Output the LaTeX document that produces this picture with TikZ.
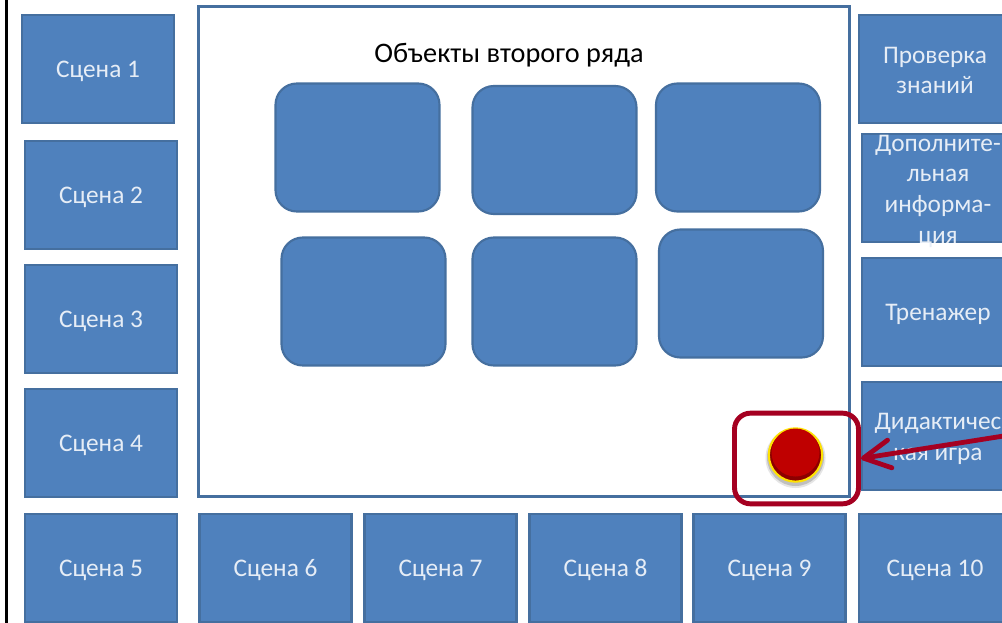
\documentclass[tikz,border=0pt]{standalone}
\usepackage{fontspec}
\setmainfont{Carlito}
\usetikzlibrary{arrows.meta}
\definecolor{boxfill}{HTML}{4F81BD}
\definecolor{boxline}{HTML}{456F9F}
\definecolor{boxtext}{HTML}{E6EDF6}
\definecolor{framered}{HTML}{A50021}
\tikzset{
  scenebox/.style={draw=boxline,fill=boxfill,line width=1.7pt,minimum width=114pt,minimum height=81pt,inner sep=0pt,
    text=boxtext,font=\fontsize{19}{23}\selectfont,text height=13pt,text depth=0pt},
  scenelabel/.style={text=boxtext,font=\fontsize{19}{23}\selectfont,align=center,inner sep=0pt},
  roundbox/.style={draw=boxline,fill=boxfill,line width=1.6pt,rounded corners=16pt,minimum width=123pt,minimum height=96pt,inner sep=0pt},
  bigbox/.style={draw=boxline,fill=white,line width=2pt,minimum width=488pt,minimum height=367pt,inner sep=0pt},
  titletext/.style={text=black,font=\fontsize{21.2}{25}\selectfont,inner sep=0pt},
  redframe/.style={draw=framered,line width=3.7pt,rounded corners=12pt,minimum width=93pt,minimum height=68pt,inner sep=0pt},
  redarrow/.style={draw=framered,line width=3.6pt,line cap=round,-{Straight Barb[length=20pt,width=21pt,line width=3.6pt,round]}}
}
\begin{document}
\begin{tikzpicture}[x=0.75pt,y=-0.75pt]
\useasboundingbox (0,0) rectangle (1002,623);
\clip (0,0) rectangle (1002,623);
\fill[white] (0,0) rectangle (1002,623);
\coordinate (edgetop) at (6.5,0);
\coordinate (edgebot) at (6.5,623);
\draw[black,line width=1.8pt] (edgetop) -- (edgebot);

\node[bigbox] (main) at (524,251.5) {};
\node[titletext] (title) at (509,55.5) {Объекты второго ряда};

\node[scenebox] (s1) at (98,69) {Сцена 1};
\node[scenebox] (s2) at (101,195) {Сцена 2};
\node[scenebox] (s3) at (101,319) {Сцена 3};
\node[scenebox] (s4) at (101,443) {Сцена 4};
\node[scenebox] (s5) at (101,568) {Сцена 5};
\node[scenebox] (s6) at (275.5,568) {Сцена 6};
\node[scenebox] (s7) at (440.5,568) {Сцена 7};
\node[scenebox] (s8) at (605.5,568) {Сцена 8};
\node[scenebox] (s9) at (769.5,568) {Сцена 9};
\node[scenebox] (s10) at (935,568) {Сцена 10};
\node[scenebox] (check) at (935,69) {};
\node[scenelabel] (checktext) at (935,70.5) {Проверка\\знаний};
\node[scenebox] (info) at (938,188) {};
\node[scenelabel] (infotext) at (938,191) {Дополните-\\льная\\информа-\\ция};
\node[scenebox] (trainer) at (938,312) {Тренажер};
\node[scenebox] (game) at (938,436) {};
\node[scenelabel] (gametext) at (938,439) {Дидактичес\\кая игра};

\node[roundbox] (r1) at (357.5,147.5) {};
\node[roundbox] (r2) at (554.5,150) {};
\node[roundbox] (r3) at (738,147.5) {};
\node[roundbox] (r4) at (363.5,301.5) {};
\node[roundbox] (r5) at (554.5,301.5) {};
\node[roundbox] (r6) at (741,293.5) {};

\fill[black!10] (795.5,458) circle (30);
\fill[black!25] (795.5,457.5) circle (28.5);
\node[circle,draw=yellow!85!orange,line width=1.6pt,fill=red!55!black,minimum size=40pt,inner sep=0pt] (button) at (795.5,455) {};
\fill[red!75!black] (795.5,452.5) circle (24);

\node[redframe] (frame) at (796.5,458.5) {};
\coordinate (arrowstart) at (1010,435);
\draw[redarrow] (arrowstart) -- (frame.east);
\end{tikzpicture}
\end{document}
